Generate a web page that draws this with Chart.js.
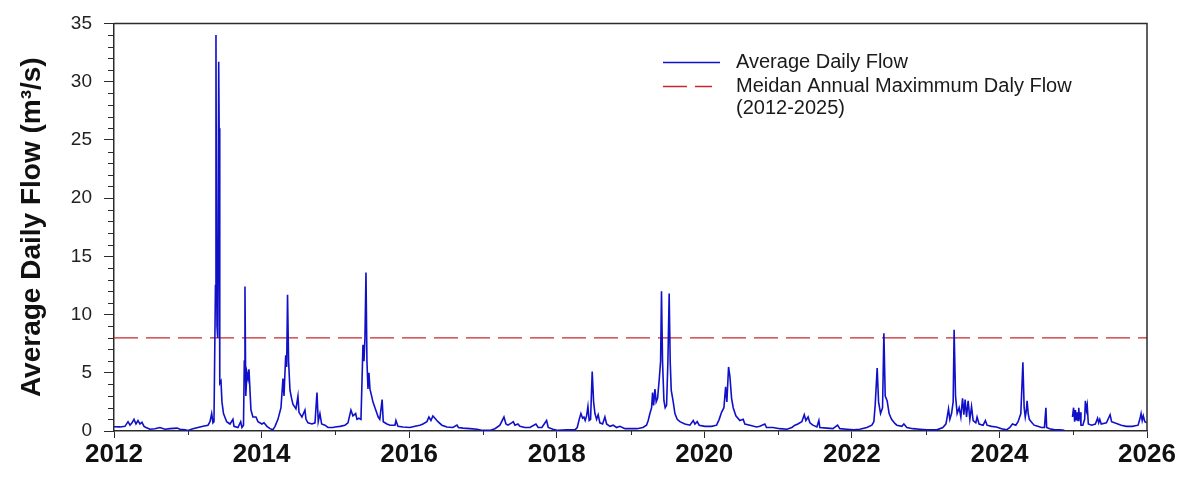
<!DOCTYPE html>
<html>
<head>
<meta charset="utf-8">
<title>Average Daily Flow</title>
<script src="https://cdn.jsdelivr.net/npm/chart.js@4/dist/chart.umd.min.js"></script>
<style>
    html, body { margin: 0; padding: 0; background: #ffffff; }
    #flowChart { display: block; }
</style>
</head>
<body>
<canvas id="flowChart" width="1181" height="483"></canvas>
<script>
// Daily flow record (decimal years, m3/s)
const flowYears = [
    2012.000, 2012.081, 2012.149, 2012.190, 2012.217, 2012.244, 2012.271, 2012.298, 2012.325, 2012.352,
    2012.379, 2012.407, 2012.434, 2012.488, 2012.556, 2012.623, 2012.691, 2012.759, 2012.854, 2012.894,
    2012.962, 2013.003, 2013.070, 2013.138, 2013.206, 2013.274, 2013.301, 2013.324, 2013.341, 2013.355,
    2013.375, 2013.382, 2013.389, 2013.396, 2013.402, 2013.409, 2013.419, 2013.425, 2013.431, 2013.436,
    2013.450, 2013.463, 2013.484, 2013.527, 2013.572, 2013.612, 2013.626, 2013.680, 2013.717, 2013.734,
    2013.755, 2013.766, 2013.775, 2013.786, 2013.802, 2013.816, 2013.829, 2013.843, 2013.856, 2013.883,
    2013.924, 2013.951, 2014.005, 2014.033, 2014.073, 2014.114, 2014.154, 2014.182, 2014.222, 2014.263,
    2014.290, 2014.304, 2014.327, 2014.340, 2014.352, 2014.366, 2014.385, 2014.407, 2014.425, 2014.466,
    2014.493, 2014.507, 2014.547, 2014.588, 2014.602, 2014.629, 2014.683, 2014.724, 2014.751, 2014.768,
    2014.791, 2014.814, 2014.859, 2014.900, 2014.967, 2014.995, 2015.062, 2015.130, 2015.171, 2015.211,
    2015.238, 2015.275, 2015.293, 2015.320, 2015.347, 2015.360, 2015.374, 2015.388, 2015.401, 2015.415,
    2015.428, 2015.442, 2015.455, 2015.469, 2015.492, 2015.509, 2015.537, 2015.564, 2015.581, 2015.602,
    2015.634, 2015.649, 2015.699, 2015.740, 2015.808, 2015.821, 2015.848, 2015.916, 2016.011, 2016.079,
    2016.146, 2016.187, 2016.241, 2016.268, 2016.295, 2016.322, 2016.350, 2016.390, 2016.444, 2016.512,
    2016.593, 2016.648, 2016.668, 2016.729, 2016.824, 2016.919, 2017.000, 2017.095, 2017.163, 2017.230,
    2017.285, 2017.312, 2017.339, 2017.389, 2017.411, 2017.434, 2017.474, 2017.501, 2017.569, 2017.637,
    2017.718, 2017.749, 2017.799, 2017.863, 2017.885, 2017.949, 2018.016, 2018.138, 2018.247, 2018.278,
    2018.305, 2018.328, 2018.351, 2018.369, 2018.386, 2018.405, 2018.423, 2018.440, 2018.459, 2018.481,
    2018.500, 2018.518, 2018.541, 2018.562, 2018.585, 2018.622, 2018.653, 2018.676, 2018.721, 2018.766,
    2018.811, 2018.856, 2018.924, 2018.992, 2019.087, 2019.168, 2019.217, 2019.240, 2019.263, 2019.286,
    2019.299, 2019.313, 2019.331, 2019.348, 2019.367, 2019.389, 2019.408, 2019.420, 2019.434, 2019.453,
    2019.470, 2019.489, 2019.507, 2019.524, 2019.538, 2019.552, 2019.579, 2019.602, 2019.633, 2019.669,
    2019.737, 2019.805, 2019.850, 2019.873, 2019.904, 2019.931, 2020.008, 2020.099, 2020.167, 2020.202,
    2020.234, 2020.266, 2020.289, 2020.306, 2020.329, 2020.347, 2020.370, 2020.392, 2020.428, 2020.482,
    2020.527, 2020.550, 2020.618, 2020.709, 2020.753, 2020.821, 2020.843, 2020.930, 2021.024, 2021.119,
    2021.187, 2021.228, 2021.268, 2021.322, 2021.355, 2021.377, 2021.407, 2021.431, 2021.472, 2021.526,
    2021.553, 2021.566, 2021.661, 2021.743, 2021.806, 2021.837, 2021.932, 2022.027, 2022.108, 2022.203,
    2022.271, 2022.298, 2022.316, 2022.343, 2022.362, 2022.389, 2022.416, 2022.434, 2022.452, 2022.478,
    2022.505, 2022.538, 2022.583, 2022.610, 2022.678, 2022.705, 2022.745, 2022.827, 2022.921, 2023.016,
    2023.152, 2023.233, 2023.274, 2023.287, 2023.310, 2023.328, 2023.351, 2023.373, 2023.386, 2023.405,
    2023.427, 2023.454, 2023.477, 2023.500, 2023.518, 2023.535, 2023.554, 2023.576, 2023.599, 2023.622,
    2023.644, 2023.680, 2023.697, 2023.724, 2023.779, 2023.810, 2023.832, 2023.892, 2023.960, 2024.028,
    2024.096, 2024.141, 2024.177, 2024.222, 2024.253, 2024.290, 2024.318, 2024.335, 2024.350, 2024.365,
    2024.375, 2024.390, 2024.405, 2024.430, 2024.470, 2024.520, 2024.570, 2024.610, 2024.630, 2024.640,
    2024.680, 2024.750, 2024.820, 2024.880, 2024.930, 2024.990, 2025.005, 2025.020, 2025.030, 2025.045,
    2025.055, 2025.065, 2025.075, 2025.085, 2025.095, 2025.105, 2025.130, 2025.155, 2025.165, 2025.180,
    2025.190, 2025.205, 2025.250, 2025.300, 2025.330, 2025.345, 2025.360, 2025.380, 2025.450, 2025.500,
    2025.520, 2025.560, 2025.650, 2025.720, 2025.800, 2025.880, 2025.910, 2025.920, 2025.935, 2025.950,
    2025.970, 2026.000
];

// null = missing record (gap late 2024)
const flowValues = [
    0.37, 0.35, 0.40, 0.80, 0.50, 0.70, 1.00, 0.60, 0.90, 0.60,
    0.75, 0.40, 0.30, 0.15, 0.20, 0.30, 0.15, 0.20, 0.25, 0.15,
    0.10, 0.05, 0.20, 0.30, 0.40, 0.50, 0.80, 1.50, 0.70, 0.80,
    12.5, 34.0, 14.8, 9.0, 15.0, 8.0, 31.7, 26.0, 12.0, 4.1,
    4.3, 2.5, 1.5, 0.8, 0.6, 1.0, 0.4, 0.3, 0.8, 0.3,
    0.5, 6.0, 12.4, 3.0, 5.0, 4.5, 5.3, 3.5, 1.8, 1.2,
    1.2, 0.8, 0.6, 0.7, 0.4, 0.2, 0.1, 0.4, 1.0, 2.0,
    4.5, 3.0, 6.5, 5.5, 11.7, 6.0, 3.5, 2.8, 2.3, 1.9,
    3.0, 1.6, 1.2, 1.8, 1.0, 0.7, 0.6, 0.7, 3.3, 0.8,
    1.5, 0.6, 0.5, 0.3, 0.3, 0.35, 0.4, 0.5, 0.7, 1.8,
    1.3, 1.5, 1.0, 1.1, 1.0, 4.0, 7.4, 6.0, 8.0, 13.6,
    6.0, 3.6, 5.0, 3.6, 3.0, 2.5, 2.0, 1.5, 1.2, 1.0,
    2.7, 0.8, 0.6, 0.5, 0.5, 0.9, 0.4, 0.35, 0.3, 0.4,
    0.5, 0.6, 0.8, 1.2, 0.9, 1.3, 1.1, 0.8, 0.5, 0.35,
    0.3, 0.5, 0.3, 0.25, 0.2, 0.15, 0.05, 0.05, 0.2, 0.5,
    1.2, 0.6, 0.5, 0.7, 0.8, 0.5, 0.6, 0.4, 0.3, 0.3,
    0.6, 0.3, 0.3, 0.9, 0.3, 0.15, 0.05, 0.1, 0.1, 0.3,
    1.0, 1.5, 1.1, 1.2, 0.9, 1.3, 2.1, 0.9, 1.0, 5.1,
    2.5, 1.5, 1.0, 1.4, 0.7, 0.6, 1.2, 0.6, 0.4, 0.5,
    0.3, 0.4, 0.2, 0.2, 0.2, 0.3, 0.5, 0.9, 1.5, 2.0,
    3.3, 2.2, 3.6, 2.5, 2.8, 4.4, 6.0, 12.0, 6.0, 2.6,
    2.0, 2.2, 6.0, 11.8, 6.0, 3.5, 2.5, 1.5, 1.0, 0.8,
    0.6, 0.5, 0.9, 0.6, 0.8, 0.5, 0.4, 0.4, 0.5, 1.0,
    1.6, 2.0, 3.8, 2.5, 5.5, 4.7, 2.8, 2.0, 1.3, 0.9,
    1.0, 0.6, 0.5, 0.35, 0.4, 0.6, 0.3, 0.3, 0.2, 0.15,
    0.3, 0.5, 0.6, 0.8, 1.4, 0.9, 1.2, 0.7, 0.5, 0.35,
    0.9, 0.3, 0.25, 0.2, 0.5, 0.2, 0.15, 0.1, 0.15, 0.3,
    0.5, 0.8, 2.2, 5.4, 2.5, 1.5, 2.0, 8.4, 3.0, 2.6,
    1.5, 1.0, 0.65, 0.5, 0.4, 0.6, 0.3, 0.2, 0.15, 0.1,
    0.1, 0.3, 0.6, 1.0, 1.9, 1.0, 1.5, 2.5, 8.7, 3.0,
    1.5, 2.0, 1.2, 2.8, 1.4, 2.7, 1.2, 2.6, 1.0, 2.1,
    0.9, 0.7, 1.2, 0.6, 0.5, 0.9, 0.5, 0.4, 0.35, 0.2,
    0.1, 0.3, 0.6, 0.5, 0.8, 1.5, 5.9, 2.0, 1.2, 1.8,
    2.6, 1.5, 1.0, 0.8, 0.5, 0.4, 0.3, 0.3, 2.0, 0.3,
    0.2, 0.1, 0.1, 0.05, null, 1.2, 2.0, 0.8, 1.8, 0.9,
    1.6, 0.9, 2.0, 1.0, 1.6, 0.5, 0.5, 1.0, 2.6, 1.8,
    2.2, 0.6, 0.5, 0.6, 1.1, 0.7, 1.0, 0.6, 0.7, 1.4,
    0.8, 0.7, 0.5, 0.4, 0.4, 0.5, 1.2, 1.5, 0.9, 1.3,
    0.8, 0.7
];

// Median annual maximum daily flow (2012-2025)
const medianYears = [2012, 2026];
const medianValues = [8.0, 8.0];

// Axis ticks
const yearTicks = [2012, 2014, 2016, 2018, 2020, 2022, 2024, 2026];
const minorYearTicks = [2013, 2015, 2017, 2019, 2021, 2023, 2025];
const flowTicks = [0, 5, 10, 15, 20, 25, 30, 35];

const legendLabels = [
    ['Average Daily Flow'],
    ['Meidan Annual Maximmum Daly Flow', '(2012-2025)']
];

const FONT = 'Arial, "Liberation Sans", sans-serif';
const AXIS_COLOR = '#2b2b2b';

// Box around the plot plus the short minor ticks
const frameAndMinorTicks = {
    id: 'frameAndMinorTicks',
    afterDraw(chart) {
        const ctx = chart.ctx;
        const area = chart.chartArea;
        const xScale = chart.scales.x;
        const yScale = chart.scales.y;
        ctx.save();
        ctx.strokeStyle = AXIS_COLOR;
        ctx.lineWidth = 1.5;
        ctx.beginPath();
        ctx.moveTo(area.left, area.top);
        ctx.lineTo(area.right, area.top);
        ctx.lineTo(area.right, area.bottom);
        ctx.stroke();

        ctx.lineWidth = 1;
        ctx.beginPath();
        for (let v = 0; v <= 35; v++) {
            if (flowTicks.includes(v)) continue;
            const y = Math.round(yScale.getPixelForValue(v)) + 0.5;
            ctx.moveTo(area.left - 6, y);
            ctx.lineTo(area.left, y);
        }
        minorYearTicks.forEach(yr => {
            const x = Math.round(xScale.getPixelForValue(yr)) + 0.5;
            ctx.moveTo(x, area.bottom);
            ctx.lineTo(x, area.bottom + 4);
        });
        ctx.stroke();
        ctx.restore();
    }
};

// Legend drawn inside the plot, top right, with a wrapped second label
const insideLegend = {
    id: 'insideLegend',
    afterDraw(chart) {
        const ctx = chart.ctx;
        const x0 = 663;
        const sampleEnd = 720;
        const textX = 736;
        const rows = [62, 86];
        const lineGap = 22;
        ctx.save();
        ctx.font = '20px ' + FONT;
        ctx.textBaseline = 'middle';
        ctx.fillStyle = '#1a1a1a';
        chart.data.datasets.forEach((ds, i) => {
            const y = rows[i];
            ctx.strokeStyle = ds.borderColor;
            ctx.lineWidth = 1.3;
            ctx.setLineDash(ds.borderDash || []);
            ctx.beginPath();
            ctx.moveTo(x0, y + 0.5);
            ctx.lineTo(i === 0 ? sampleEnd : sampleEnd - 8, y + 0.5);
            ctx.stroke();
            legendLabels[i].forEach((txt, j) => {
                ctx.fillText(txt, textX, y + j * lineGap);
            });
        });
        ctx.restore();
    }
};

function buildChart() {
    const ctx = document.getElementById('flowChart').getContext('2d');
    const flowPoints = flowYears.map((yr, i) => ({ x: yr, y: flowValues[i] }));
    const medianPoints = medianYears.map((yr, i) => ({ x: yr, y: medianValues[i] }));

    return new Chart(ctx, {
        type: 'line',
        data: {
            datasets: [{
                label: 'Average Daily Flow',
                data: flowPoints,
                borderColor: '#1010c8',
                borderWidth: 1.6,
                pointRadius: 0,
                tension: 0,
                spanGaps: false
            }, {
                label: 'Meidan Annual Maximmum Daly Flow (2012-2025)',
                data: medianPoints,
                borderColor: '#c8282d',
                borderWidth: 1.3,
                borderDash: [24, 8],
                pointRadius: 0
            }]
        },
        options: {
            responsive: false,
            devicePixelRatio: 1,
            animation: false,
            layout: {
                padding: { top: 19, right: 34, left: 0, bottom: 0 }
            },
            plugins: {
                legend: { display: false },
                tooltip: { enabled: false }
            },
            scales: {
                x: {
                    type: 'linear',
                    min: 2012,
                    max: 2026,
                    afterBuildTicks: (scale) => {
                        scale.ticks = yearTicks.map(v => ({ value: v }));
                    },
                    afterFit: (scale) => { scale.height = 52; },
                    ticks: {
                        callback: (value) => String(value),
                        color: '#111',
                        padding: 1,
                        maxRotation: 0,
                        font: { family: FONT, size: 26, weight: 'bold' }
                    },
                    grid: {
                        drawOnChartArea: false,
                        tickLength: 7,
                        tickColor: AXIS_COLOR
                    },
                    border: { display: true, color: AXIS_COLOR, width: 1.5 }
                },
                y: {
                    min: 0,
                    max: 35,
                    afterBuildTicks: (scale) => {
                        scale.ticks = flowTicks.map(v => ({ value: v }));
                    },
                    afterFit: (scale) => { scale.width = 114; },
                    ticks: {
                        color: '#222',
                        padding: 12,
                        font: { family: FONT, size: 19 }
                    },
                    grid: {
                        drawOnChartArea: false,
                        tickLength: 10,
                        tickColor: AXIS_COLOR
                    },
                    border: { display: true, color: AXIS_COLOR, width: 1.5 },
                    title: {
                        display: true,
                        text: 'Average Daily Flow (m³/s)',
                        color: '#111',
                        padding: { top: 15, bottom: 0 },
                        font: { family: FONT, size: 28, weight: 'bold' }
                    }
                }
            }
        },
        plugins: [frameAndMinorTicks, insideLegend]
    });
}

buildChart();
</script>
</body>
</html>
